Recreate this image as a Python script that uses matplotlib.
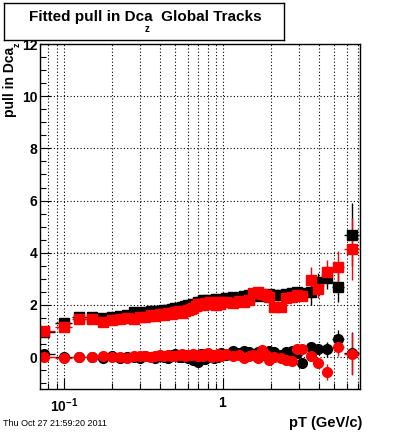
import matplotlib
matplotlib.use("Agg")
import matplotlib.pyplot as plt
from matplotlib.ticker import FixedLocator, NullFormatter, FixedFormatter
import numpy as np

plt.rcParams['font.family'] = ['Liberation Sans', 'DejaVu Sans']
plt.rcParams['mathtext.fontset'] = 'custom'
plt.rcParams['mathtext.rm'] = 'Liberation Sans'
plt.rcParams['mathtext.bf'] = 'Liberation Sans:bold'
plt.rcParams['mathtext.it'] = 'Liberation Sans:italic'

# ---- data ----
pt = [0.075, 0.100, 0.125, 0.150, 0.175, 0.200, 0.225, 0.250, 0.275, 0.300,
      0.325, 0.350, 0.375, 0.400, 0.425, 0.450, 0.475, 0.500, 0.525, 0.550,
      0.575, 0.600, 0.625, 0.650, 0.675, 0.700, 0.725, 0.750, 0.775, 0.800,
      0.825, 0.850, 0.875, 0.900, 0.925, 0.950, 0.975,
      1.05, 1.15, 1.25, 1.35, 1.45, 1.55, 1.65, 1.75, 1.85, 1.95,
      2.1, 2.3, 2.5, 2.7, 2.9,
      3.15, 3.55, 3.92, 4.47, 5.3, 6.45]
pt_err = [0.0125] * 37 + [0.05] * 10 + [0.1] * 5 + [0.15, 0.2, 0.2, 0.3, 0.45, 0.7]

sigma_black = [0.95, 1.32, 1.52, 1.55, 1.50, 1.55, 1.58, 1.60, 1.72, 1.68,
               1.72, 1.75, 1.76, 1.78, 1.80, 1.82, 1.84, 1.88, 1.90, 1.92,
               1.95, 1.98, 2.00, 2.04, 2.05, 2.10, 2.12, 2.18, 2.15, 2.20,
               2.17, 2.15, 2.20, 2.22, 2.18, 2.12, 2.20,
               2.25, 2.30, 2.28, 2.35, 2.38, 2.40, 2.35, 2.38, 2.40, 2.42,
               2.38, 2.40, 2.42, 2.45, 2.48,
               2.45, 2.50, 2.88, 3.05, 2.70, 4.70]
sigma_red = [1.00, 1.17, 1.47, 1.47, 1.36, 1.42, 1.46, 1.50, 1.48, 1.55,
             1.52, 1.60, 1.58, 1.64, 1.62, 1.68, 1.66, 1.72, 1.75, 1.70,
             1.78, 1.82, 1.85, 1.88, 1.95, 2.02, 2.05, 2.00, 2.08, 2.03,
             2.10, 2.05, 2.08, 1.98, 2.10, 2.05, 2.12,
             2.13, 2.07, 2.15, 2.10, 2.20, 2.45, 2.50, 2.42, 2.38, 2.30,
             1.94, 1.94, 2.26, 2.32, 2.38,
             2.35, 2.96, 2.60, 3.27, 3.46, 4.15]
sigma_err = [0.04] * 37 + [0.06] * 10 + [0.1] * 5 + [0.15, 0.5, 0.35, 0.45, 0.6, 1.2]

mean_black = [0.12, 0.00, 0.02, 0.00, -0.02, 0.03, -0.03, 0.00, 0.02, -0.04,
              0.04, 0.00, -0.03, 0.05, 0.02, -0.05, 0.08, 0.12, 0.02, 0.00,
              0.10, -0.05, 0.03, -0.10, 0.06, -0.18, 0.12, 0.02, -0.08, 0.05,
              0.00, 0.10, -0.02, 0.08, 0.00, 0.05, 0.15,
              0.10, 0.22, 0.15, 0.25, 0.18, 0.10, 0.20, 0.08, 0.15, 0.25,
              0.20, 0.10, 0.18, 0.22, 0.16,
              -0.22, 0.38, 0.30, 0.30, 0.68, 0.17]
mean_red = [0.02, -0.03, 0.00, 0.02, 0.03, 0.00, 0.02, -0.02, 0.05, 0.03,
            0.06, 0.02, 0.05, 0.08, 0.04, 0.10, 0.06, 0.03, 0.08, 0.12,
            0.05, 0.10, 0.07, 0.14, 0.08, 0.04, 0.10, 0.06, 0.12, 0.16,
            0.08, 0.02, 0.10, 0.05, 0.12, 0.08, 0.06,
            0.14, 0.05, 0.10, -0.03, 0.04, 0.08, -0.05, 0.27, 0.10, -0.12,
            0.00, -0.04, -0.10, -0.14, 0.32,
            0.33, 0.04, -0.22, -0.56, 0.38, 0.12]
mean_err = [0.03] * 37 + [0.05] * 10 + [0.08] * 5 + [0.1, 0.15, 0.15, 0.3, 0.35, 0.8]

# ---- figure ----
fig = plt.figure(figsize=(4.0, 4.33), dpi=100)
W, H = 400, 433
ax = fig.add_axes([40 / W, (H - 389) / H, 320 / W, 345 / H])

kw = dict(ms=7, elinewidth=1, capsize=0, linestyle='none')
ax.errorbar(pt, sigma_black, yerr=sigma_err, xerr=pt_err, fmt='s', color='black', mec='black', **kw)
ax.errorbar(pt, mean_black, yerr=mean_err, xerr=pt_err, fmt='o', color='black', mec='black', **kw)
ax.errorbar(pt, sigma_red, yerr=sigma_err, xerr=pt_err, fmt='s', color='#ff0000', mec='#ff0000', **kw)
ax.errorbar(pt, mean_red, yerr=mean_err, xerr=pt_err, fmt='o', color='#ff0000', mec='#ff0000', **kw)

ax.set_xscale('log')
ax.set_xlim(0.0708, 7.24)
ax.set_ylim(-1.22, 12)

ax.xaxis.set_major_locator(FixedLocator([0.1, 1.0]))
ax.xaxis.set_major_formatter(FixedFormatter([r'$\mathbf{10^{-1}}$', r'$\mathbf{1}$']))
minors = [0.08, 0.09] + [i / 10 for i in range(2, 10)] + [float(i) for i in range(2, 8)]
ax.xaxis.set_minor_locator(FixedLocator(minors))
ax.xaxis.set_minor_formatter(NullFormatter())

ax.yaxis.set_major_locator(FixedLocator([0, 2, 4, 6, 8, 10, 12]))
ax.yaxis.set_minor_locator(FixedLocator([-1.0, -0.5] + [v / 2 for v in range(1, 24) if v % 4 != 0]))

ax.tick_params(which='both', direction='in', top=False, right=False, width=0.8)
ax.tick_params(which='major', length=8, labelsize=10, pad=2)
ax.tick_params(which='minor', length=4)
for lab in ax.get_yticklabels():
    lab.set_fontweight('bold')
ax.tick_params(axis='x', pad=5)

ax.grid(which='both', axis='x', color='black', linestyle=(0, (1, 2)), linewidth=0.8)
ax.grid(which='major', axis='y', color='black', linestyle=(0, (1, 2)), linewidth=0.8)
ax.set_axisbelow(True)
for s in ax.spines.values():
    s.set_linewidth(1.0)

# title box
tb = fig.add_axes([4 / W, (H - 40) / H, 280 / W, 37 / H])
tb.set_xticks([]); tb.set_yticks([])
for s in tb.spines.values():
    s.set_linewidth(1.0)
fig.text(145 / W, 1 - 17 / H, 'Fitted pull in Dca  Global Tracks', ha='center', va='center',
         fontsize=11, fontweight='bold')
fig.text(147 / W, 1 - 29 / H, 'z', ha='center', va='center', fontsize=7, fontweight='bold')

# y label
fig.text(10 / W, 1 - 47 / H, 'pull in Dca', rotation=90, ha='center', va='top',
         fontsize=10, fontweight='bold')
fig.text(17 / W, 1 - 45 / H, 'z', rotation=90, ha='center', va='center',
         fontsize=6.5, fontweight='bold')

# x label
fig.text(362 / W, 1 - 423 / H, 'pT (GeV/c)', ha='right', va='center', fontsize=10.5, fontweight='bold')

# date
fig.text(3 / W, 1 - 424 / H, 'Thu Oct 27 21:59:20 2011', ha='left', va='center', fontsize=6.5)

fig.savefig('out.png', dpi=100)
